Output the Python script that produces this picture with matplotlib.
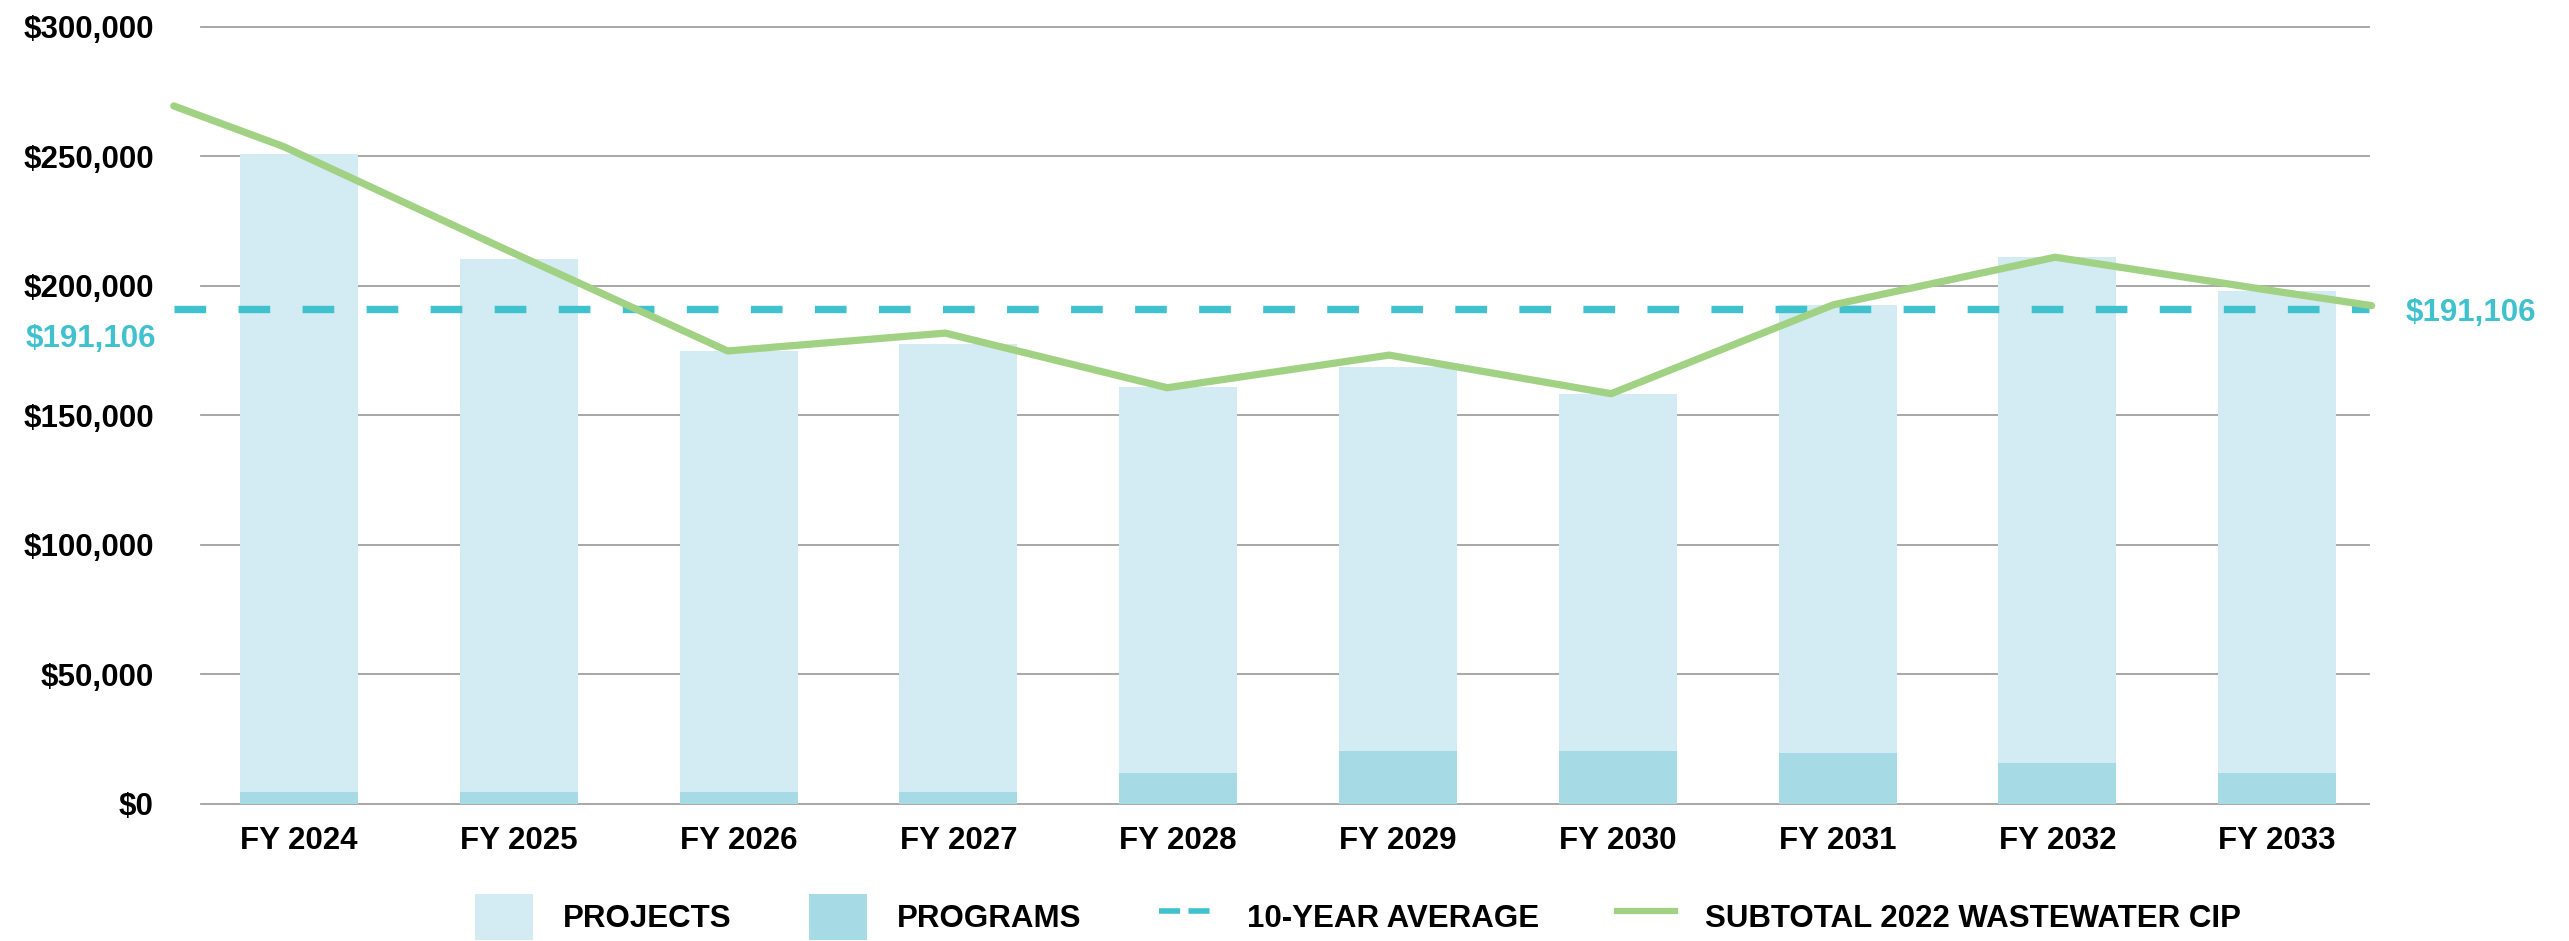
import matplotlib.pyplot as plt
from matplotlib.patches import Patch
from matplotlib.lines import Line2D

plt.rcParams['font.family'] = ['Liberation Sans', 'DejaVu Sans']
plt.rcParams['font.weight'] = 'bold'

# data
years = ['FY 2024', 'FY 2025', 'FY 2026', 'FY 2027', 'FY 2028',
         'FY 2029', 'FY 2030', 'FY 2031', 'FY 2032', 'FY 2033']
totals = [251000, 210300, 174700, 177300, 160700, 168700, 158200, 192500, 211100, 197900]
programs = [4500, 4500, 4500, 4500, 12000, 20300, 20300, 19500, 15700, 11900]
projects = [t - p for t, p in zip(totals, programs)]

# subtotal line sits on its own category positions (a bit left of the bars, runs past the ends)
subtotal_x = [-0.57, -0.07, 0.94, 1.95, 2.94, 3.95, 4.96, 5.97, 6.98, 7.99, 8.99, 9.43]
subtotal_y = [269400, 253700, 214000, 174800, 181700, 160600, 173200, 158300,
              192600, 211000, 197900, 192300]

average = 191106
y_ticks = [0, 50000, 100000, 150000, 200000, 250000, 300000]

c_projects = '#D3EBF2'
c_programs = '#A6DBE6'
c_avg = '#40C1CE'
c_sub = '#A1D183'
c_grid = '#A0A0A0'

fig = plt.figure(figsize=(25.69, 9.41), dpi=100)
ax = fig.add_axes([201 / 2569, 1 - 803.7 / 941, 2168 / 2569, 777 / 941])

x = list(range(len(years)))
ax.bar(x, programs, width=0.537, color=c_programs, zorder=2)
ax.bar(x, projects, width=0.537, bottom=programs, color=c_projects, zorder=2)

for y in y_ticks:
    ax.axhline(y, color=c_grid, lw=1.3, zorder=0, clip_on=False)

ax.set_xlim(-0.446, 9.418)
ax.set_ylim(0, 300000)

ax.plot([subtotal_x[0], 9.418], [average, average], color=c_avg, lw=5.3,
        dashes=(4.3, 4.4), dash_capstyle='butt', zorder=3, clip_on=False)
ax.plot(subtotal_x, subtotal_y, color=c_sub, lw=5.2, solid_capstyle='round',
        zorder=4, clip_on=False)

ax.annotate(f'${average:,}', xy=(0, average), xycoords=('axes fraction', 'data'),
            xytext=(-32.5, -22), textcoords='offset points', ha='right', va='center',
            color=c_avg, fontsize=22.5, fontweight='bold')
ax.annotate(f'${average:,}', xy=(1, average), xycoords=('axes fraction', 'data'),
            xytext=(26, -3), textcoords='offset points', ha='left', va='center',
            color=c_avg, fontsize=22.5, fontweight='bold')

ax.set_xticks(x)
ax.set_xticklabels(years)
ax.set_yticks(y_ticks)
ax.set_yticklabels([f'${v:,}' for v in y_ticks], va='center_baseline')
ax.tick_params(axis='x', length=0, pad=16, labelsize=22.5)
ax.tick_params(axis='y', length=0, pad=34, labelsize=22.5)
for s in ax.spines.values():
    s.set_visible(False)

handles = [Patch(facecolor=c_projects), Patch(facecolor=c_programs),
           Line2D([], [], color=c_avg, lw=4, dashes=(3.8, 1.5)),
           Line2D([], [], color=c_sub, lw=4.5)]
labels = ['PROJECTS', 'PROGRAMS', '10-YEAR AVERAGE', 'SUBTOTAL 2022 WASTEWATER CIP']
fig.legend(handles, labels, loc='center left', bbox_to_anchor=(475 / 2569, 24 / 941),
           ncol=4, frameon=False, fontsize=22.5, handlelength=1.85, handleheight=1.85,
           handletextpad=0.95, columnspacing=2.5, borderpad=0, borderaxespad=0)

fig.savefig('out.png', dpi=100)
